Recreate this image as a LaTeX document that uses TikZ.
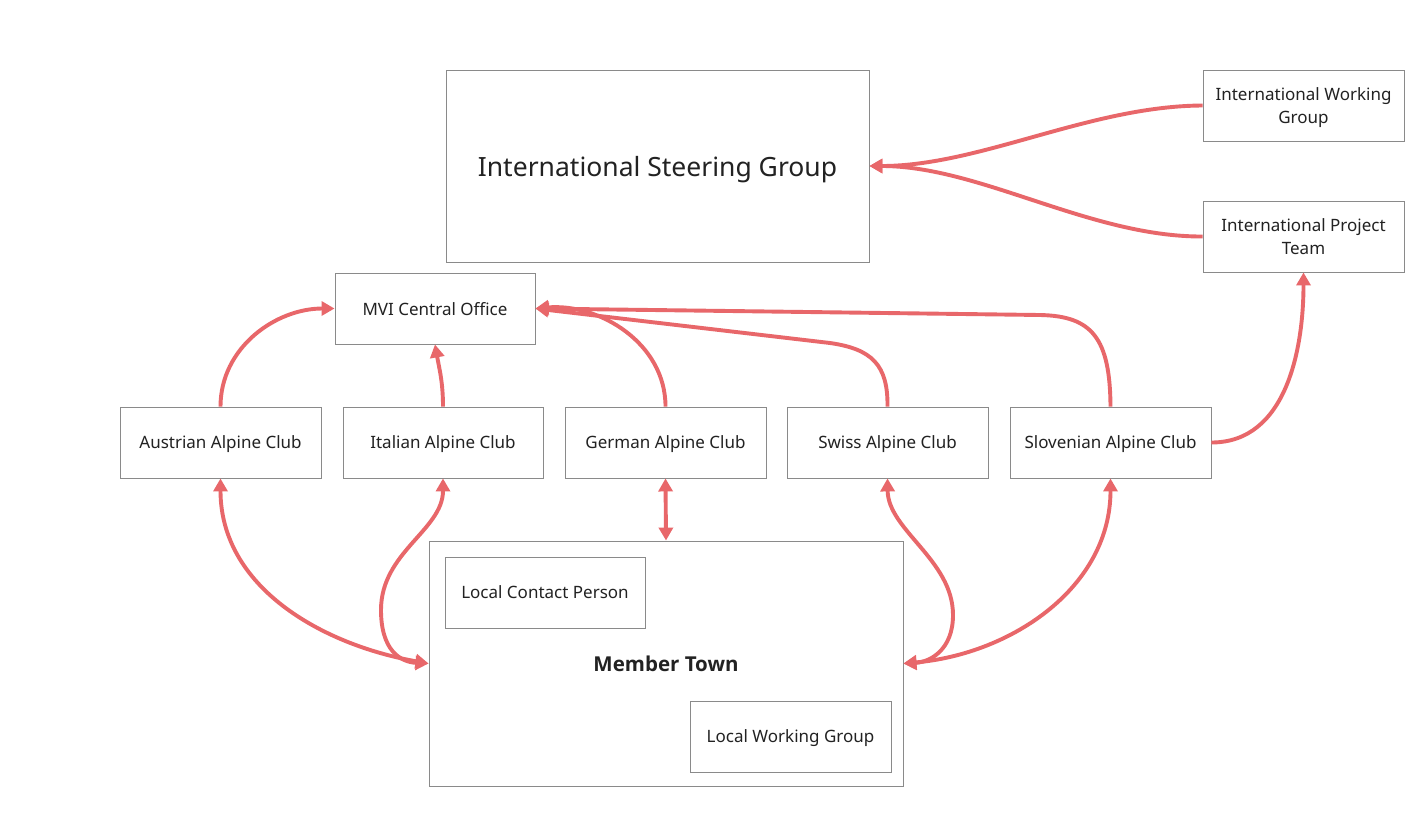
\documentclass[tikz,border=0pt]{standalone}
\usepackage{fontspec}
\setmainfont{Noto Sans}[AutoFakeBold=2.5]
\newfontfamily\mtfont{Open Sans}
\usetikzlibrary{arrows.meta}
\definecolor{edge}{HTML}{E8676A}
\definecolor{boxline}{HTML}{8A8A8A}
\definecolor{txt}{HTML}{222222}
\tikzset{
  box/.style={draw=boxline, line width=0.9pt, fill=white, text=txt, inner sep=0pt, align=center,
    text depth=0pt, font=\fontsize{17}{23}\selectfont},
  conn/.style={draw=edge, line width=3.9pt, -{Triangle[length=13pt,width=14pt]}},
  bconn/.style={draw=edge, line width=3.9pt, {Triangle[length=13pt,width=14pt]}-{Triangle[length=13pt,width=14pt]}},
}
\begin{document}
\begin{tikzpicture}[x=1pt,y=-1pt]
\useasboundingbox[fill=white] (0,0) rectangle (1427,825);
% boxes
\node[box, minimum width=423pt, minimum height=192pt, font=\fontsize{26.5}{30}\selectfont] (isg) at (657.5,166) {International Steering Group};
\node[box, minimum width=201pt, minimum height=71pt] (iwg) at (1303.5,105.5) {International Working\\Group};
\node[box, minimum width=201pt, minimum height=71pt] (ipt) at (1303.5,236.5) {International Project\\Team};
\node[box, minimum width=200pt, minimum height=71pt] (mvi) at (435,308.5) {MVI Central Office};
\node[box, minimum width=201pt, minimum height=71pt] (au) at (220.5,442.5) {Austrian Alpine Club};
\node[box, minimum width=200pt, minimum height=71pt] (it) at (443,442.5) {Italian Alpine Club};
\node[box, minimum width=201pt, minimum height=71pt] (de) at (665.5,442.5) {German Alpine Club};
\node[box, minimum width=201pt, minimum height=71pt] (sw) at (887.5,442.5) {Swiss Alpine Club};
\node[box, minimum width=201pt, minimum height=71pt] (sl) at (1110.5,442.5) {Slovenian Alpine Club};
\node[box, minimum width=474pt, minimum height=245pt] (mt) at (666,663.5) {};
\node[text=txt, font=\mtfont\fontsize{20.5}{24}\selectfont\bfseries, text depth=0pt] (mtl) at (666,664) {Member Town};
\node[box, minimum width=200pt, minimum height=71pt] (lcp) at (545,592.5) {Local Contact Person};
\node[box, minimum width=201pt, minimum height=71pt] (lwg) at (790.5,736.5) {Local Working Group};
% connectors
\draw[conn] (iwg.west) .. controls (1090,106) and (980,166) .. (isg.east);
\draw[conn] (ipt.west) .. controls (1090,237) and (980,166) .. (isg.east);
\draw[conn] (au.north) to[out=90,in=180] (mvi.west);
\draw[conn] (it.north) to[out=90,in=-80] (mvi.south);
\draw[conn] (de.north) to[out=90,in=5] (mvi.east);
\draw[conn] (sw.north) .. controls (888,365) and (872,349) .. (830,343) -- (mvi.east);
\draw[conn] (sl.north) .. controls (1110,338) and (1092,316) .. (1040,315) -- (mvi.east);
\draw[conn] (sl.east) to[out=0,in=-90] (ipt.south);
\draw[bconn] (au.south) to[out=-90,in=170] (mt.west);
\draw[bconn] (it.south) .. controls (443,530) and (381,552) .. (381,610) .. controls (381,650) and (400,662) .. (mt.west);
\draw[bconn] (de.south) -- (mt.north);
\draw[bconn] (sw.south) .. controls (888,530) and (953,560) .. (953,615) .. controls (953,650) and (930,662) .. (mt.east);
\draw[bconn] (sl.south) to[out=-90,in=5] (mt.east);
\end{tikzpicture}
\end{document}
